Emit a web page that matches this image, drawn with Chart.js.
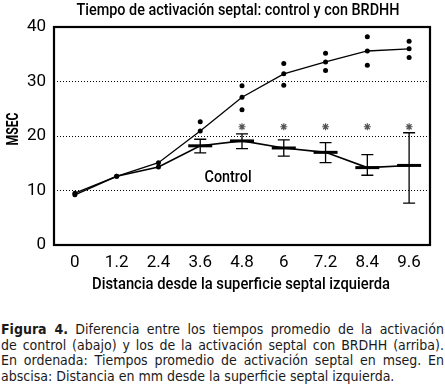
<!DOCTYPE html>
<html>
<head>
<meta charset="utf-8">
<script src="https://cdn.jsdelivr.net/npm/chart.js@4.4.1/dist/chart.umd.min.js"></script>
<style>
  body { margin: 0; background: #fff; }
  #wrap { position: relative; width: 445px; height: 389px; overflow: hidden; }
  #chart { position: absolute; left: 0; top: 0; }
  #caption {
    position: absolute; left: 1px; top: 322px; width: 443px;
    font-family: "DejaVu Sans Condensed", "DejaVu Sans", sans-serif; font-size: 14px; line-height: 15.6px; color: #1a1a1a;
  }
  #caption div { text-align: justify; text-align-last: justify; white-space: nowrap; }
  #caption div.last { text-align-last: left; }
</style>
</head>
<body>
<div id="wrap">
  <canvas id="chart" width="445" height="300"></canvas>
  <div id="caption">
    <div><b>Figura 4.</b> Diferencia entre los tiempos promedio de la activación</div>
    <div>de control (abajo) y los de la activación septal con BRDHH (arriba).</div>
    <div>En ordenada: Tiempos promedio de activación septal en mseg. En</div>
    <div class="last">abscisa: Distancia en mm desde la superficie septal izquierda.</div>
  </div>
</div>
<script>
const distances = [0, 1.2, 2.4, 3.6, 4.8, 6, 7.2, 8.4, 9.6];
const brdhhMean = [9.5, 12.6, 15.1, 20.9, 27.1, 31.4, 33.6, 35.6, 36.0];
const brdhhHigh = [null, null, null, 22.6, 29.2, 33.3, 35.2, 38.2, 37.4];
const brdhhLow = [null, null, null, null, 24.8, 29.3, 32.0, 33.0, 34.4];
const controlMean = [9.2, 12.6, 14.3, 18.2, 19.1, 17.8, 17.0, 14.2, 14.6];
const controlUpper = [null, null, null, 19.4, 20.4, 19.3, 18.8, 16.6, 20.6];
const controlLower = [null, null, null, 16.9, 17.7, 16.3, 15.1, 12.8, 7.7];
const significant = [null, null, null, null, 21.7, 21.7, 21.7, 21.7, 21.7];
const yTicks = [0, 10, 20, 30, 40];

const narrow = 'Roboto, "Liberation Sans", sans-serif';

function pts(values) {
    return distances.map((d, i) => ({ x: d, y: values[i] })).filter(p => p.y !== null);
}

// text squeezed to a given width, to imitate the condensed face of the original
function narrowText(ctx, text, x, y, font, width, angle) {
    ctx.save();
    ctx.font = font;
    const w = ctx.measureText(text).width;
    ctx.translate(x, y);
    if (angle) ctx.rotate(angle);
    ctx.scale(width / w, 1);
    ctx.textAlign = 'center';
    ctx.textBaseline = 'middle';
    ctx.fillText(text, 0, 0);
    ctx.restore();
}

// error bars, box and the texts
const extras = {
    id: 'extras',
    afterDatasetsDraw(chart) {
        const { ctx, chartArea, scales } = chart;
        const xs = scales.x, ys = scales.y;
        ctx.save();
        ctx.strokeStyle = '#000';
        ctx.lineWidth = 1.3;
        distances.forEach((d, i) => {
            if (controlUpper[i] === null) return;
            const px = xs.getPixelForValue(d);
            const top = ys.getPixelForValue(controlUpper[i]);
            const bot = ys.getPixelForValue(controlLower[i]);
            ctx.beginPath();
            ctx.moveTo(px, top); ctx.lineTo(px, bot);
            ctx.moveTo(px - 6, top); ctx.lineTo(px + 6, top);
            ctx.moveTo(px - 6, bot); ctx.lineTo(px + 6, bot);
            ctx.stroke();
        });
        ctx.lineWidth = 2.2;
        ctx.strokeRect(chartArea.left, chartArea.top, chartArea.right - chartArea.left, chartArea.bottom - chartArea.top);
        ctx.fillStyle = '#000';
        narrowText(ctx, 'Control', xs.getPixelForValue(4.4), ys.getPixelForValue(12.3), '500 17px ' + narrow, 47);
        narrowText(ctx, 'Tiempo de activación septal: control y con BRDHH', 238, 11, '500 16px ' + narrow, 323);
        narrowText(ctx, 'Distancia desde la superficie septal izquierda', 241, 285, '500 17px ' + narrow, 298);
        narrowText(ctx, 'MSEC', 14, 129, 'bold 16px ' + narrow, 33, -Math.PI / 2);
        ctx.restore();
    }
};

new Chart(document.getElementById('chart'), {
    type: 'scatter',
    data: {
        datasets: [
            {
                data: pts(brdhhMean), showLine: true, borderColor: '#000', backgroundColor: '#000',
                borderWidth: 1.3, pointRadius: 2.5, pointBorderWidth: 0
            },
            {
                data: pts(brdhhHigh), backgroundColor: '#000', pointRadius: 2.5, pointBorderWidth: 0
            },
            {
                data: pts(brdhhLow), backgroundColor: '#000', pointRadius: 2.5, pointBorderWidth: 0
            },
            {
                data: pts(controlMean), showLine: true, borderColor: '#000', backgroundColor: '#000',
                borderWidth: 1.6, pointRadius: distances.map((d, i) => i < 3 ? 2.5 : 0), pointBorderWidth: 0
            },
            {
                data: pts(controlMean.map((v, i) => controlUpper[i] === null ? null : v)),
                pointStyle: 'line', pointRadius: 12, borderColor: '#000', pointBorderWidth: 3
            },
            {
                data: pts(significant), pointStyle: 'star', pointRadius: 3.5,
                borderColor: '#555', pointBorderWidth: 1.2
            }
        ]
    },
    options: {
        responsive: false,
        animation: false,
        layout: { padding: { left: 0, right: 5, top: 27, bottom: 0 } },
        plugins: {
            legend: { display: false },
            tooltip: { enabled: false },
            title: { display: false }
        },
        scales: {
            x: {
                type: 'linear', min: -0.6, max: 10.2,
                afterBuildTicks: s => { s.ticks = distances.map(v => ({ value: v })); },
                afterFit: s => { s.height = 55; },
                grid: { display: false },
                border: { display: false },
                ticks: {
                    color: '#000', padding: 0, maxRotation: 0,
                    font: { family: narrow, size: 17 },
                    callback: v => String(v)
                }
            },
            y: {
                min: 0, max: 40,
                afterBuildTicks: s => { s.ticks = yTicks.map(v => ({ value: v })); },
                afterFit: s => { s.width = 54; },
                grid: {
                    drawTicks: false, lineWidth: 1,
                    color: c => (c.tick && (c.tick.value === 0 || c.tick.value === 40)) ? 'rgba(0,0,0,0)' : '#000'
                },
                border: { display: false, dash: [1, 2] },
                ticks: { color: '#000', padding: 8, font: { family: narrow, size: 17 } }
            }
        }
    },
    plugins: [extras]
});
</script>
</body>
</html>
